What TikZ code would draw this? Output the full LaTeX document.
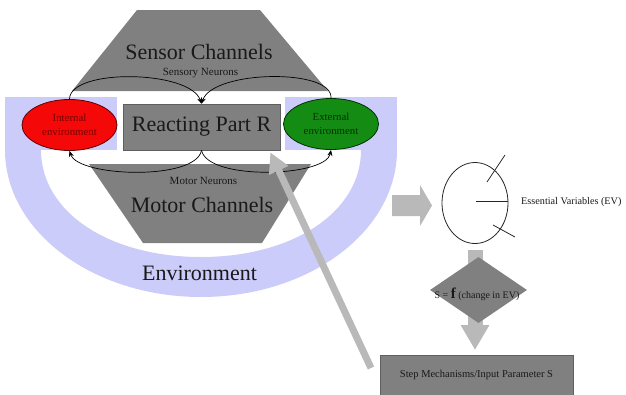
\documentclass[tikz,border=0pt]{standalone}
\usepackage{fontspec}
\setmainfont{Liberation Serif}
\usetikzlibrary{shapes.geometric,arrows.meta}
\definecolor{envblue}{RGB}{204,204,250}
\definecolor{chgray}{RGB}{128,128,128}
\definecolor{chborder}{RGB}{95,95,95}
\definecolor{lightarr}{RGB}{185,185,185}
\definecolor{txtdark}{RGB}{25,25,25}
\definecolor{redfill}{RGB}{245,8,8}
\definecolor{redtxt}{RGB}{120,0,0}
\definecolor{greenfill}{RGB}{20,140,20}
\definecolor{greentxt}{RGB}{0,50,0}
\begin{document}
\begin{tikzpicture}[x=1pt,y=-1pt,
  bigtxt/.style={font=\fontsize{22}{24}\selectfont, text=txtdark, inner sep=0pt},
  smalltxt/.style={font=\fontsize{11}{13}\selectfont, text=txtdark, inner sep=0pt},
  envell/.style={ellipse, line width=0.8pt, minimum width=95pt, minimum height=51pt,
    inner sep=0pt, align=center, font=\fontsize{10.8}{14.5}\selectfont},
  neuron/.style={draw=black, line width=0.7pt, -{Stealth[length=6pt,width=5pt]}},
  graybox/.style={rectangle, fill=chgray, draw=chborder, line width=0.6pt, inner sep=0pt, text=txtdark},
  lightarrow/.style={draw=lightarr, line cap=butt}
]
\useasboundingbox (0,0) rectangle (626,394);

% environment band
\fill[envblue] (5,97) rectangle (117,150);
\fill[envblue] (285,97) rectangle (397,150);
\fill[envblue] (5,150) .. controls (5,231.2) and (92.8,297) .. (201,297)
  .. controls (309.2,297) and (397,231.2) .. (397,150)
  -- (361,150) .. controls (361,212) and (293,257) .. (201,257)
  .. controls (109,257) and (41,212) .. (41,150) -- cycle;
\node[bigtxt, anchor=base] (envtxt) at (199.5,280) {Environment};

% channels
\fill[chgray] (137,10) -- (260,10) -- (328,91) -- (72,91) -- cycle;
\fill[chgray] (89,164) -- (311,164) -- (262,243) -- (143,243) -- cycle;
\node[bigtxt, anchor=base] (sensor) at (199,59) {Sensor Channels};
\node[smalltxt, anchor=base] (sensoryn) at (200.5,75) {Sensory Neurons};
\node[smalltxt, anchor=base] (motorn) at (203.5,184) {Motor Neurons};
\node[bigtxt, anchor=base] (motor) at (202,212) {Motor Channels};

% reacting part
\node[graybox, minimum width=157pt, minimum height=46pt, font=\fontsize{22}{24}\selectfont] (R) at (201.5,127) {Reacting Part R};

% environments
\node[envell, fill=redfill, draw=redtxt!80!black, text=redtxt] (red) at (69.5,125) {Internal\\environment};
\node[envell, fill=greenfill, draw=greentxt, text=greentxt] (green) at (331,124) {External\\environment};

% neurons
\draw[neuron] (red.north) .. controls (70,68) and (190,70) .. (R.north);
\draw[neuron] (green.north) .. controls (333,68) and (213,70) .. (R.north);
\draw[neuron] (R.south) .. controls (196,181) and (78,177) .. (red.south);
\draw[neuron] (R.south) .. controls (208,181) and (326,177) .. (green.south);

% block arrow to EV
\coordinate (barrowtail) at (392,205.5);
\fill[lightarr] (barrowtail) ++(0,-10.5) -- (420,195) -- (420,185) -- (432,205.5)
  -- (420,226) -- (420,216) -- (392,216) -- cycle;

% essential variables
\node[draw=black!85, ellipse, line width=0.8pt, minimum width=66pt, minimum height=81pt, inner sep=0pt] (ev) at (475,203) {};
\draw[black!85, line width=0.8pt] (476,201) -- (508,201);
\draw[black!85, line width=0.8pt] (487,182) -- (505,155);
\draw[black!85, line width=0.8pt] (493,225) -- (515,237);
\node[anchor=west, font=\fontsize{10.2}{12}\selectfont, text=txtdark, inner sep=0pt] (evtxt) at (521,202) {Essential Variables (EV)};

% step box
\node[graybox, anchor=north, minimum width=193pt, minimum height=40pt, font=\fontsize{10.5}{12}\selectfont] (step) at (476.5,355) {Step Mechanisms/Input Parameter S};

% down arrow
\draw[lightarrow, line width=15pt, -{Triangle[length=25pt,width=27pt]}, shorten <=6pt, shorten >=5pt] (ev.south) -- (step.north -| ev.south);

% diamond
\node[diamond, fill=chgray, minimum width=97pt, minimum height=66pt, inner sep=0pt] (dia) at (478.5,290) {};
\node[font=\fontsize{10}{12}\selectfont, text=txtdark, inner sep=0pt] (diatxt) at (477,294) {S = {\fontsize{15}{15}\selectfont\bfseries f} (change in EV)};

% long feedback arrow
\coordinate (tail) at (371,368);
\draw[lightarrow, line width=7pt, -{Triangle[length=20pt,width=20pt]}] (tail) -- ([xshift=-10pt,yshift=-2pt]R.south east);
\end{tikzpicture}
\end{document}
